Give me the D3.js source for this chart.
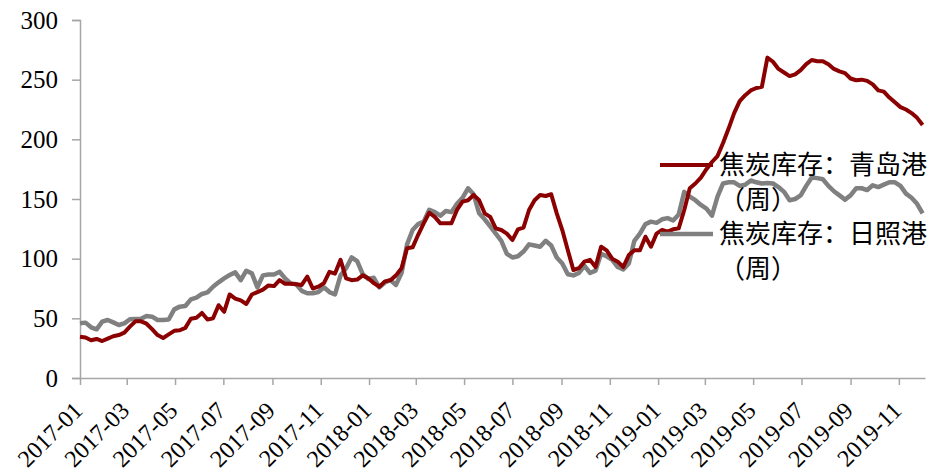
<!DOCTYPE html>
<html><head><meta charset="utf-8">
<script src="https://cdn.jsdelivr.net/npm/d3@7"></script>
<style>
html,body{margin:0;padding:0;background:#fff;}
svg{display:block;}
</style></head>
<body>
<svg id="chart" width="936" height="476"></svg>
<script>
// ---- data ----
const startDate = "2017-01-01";   // first weekly observation
const seriesNames = ["焦炭库存：青岛港", "焦炭库存：日照港"];
const legendSub = "（周）";
const yTicks = [0, 50, 100, 150, 200, 250, 300];
const xTickLabels = ["2017-01","2017-03","2017-05","2017-07","2017-09","2017-11",
  "2018-01","2018-03","2018-05","2018-07","2018-09","2018-11",
  "2019-01","2019-03","2019-05","2019-07","2019-09","2019-11"];
const qingdao = [34.6,34,31.6,32.7,31,33,35,36,38,43,47.5,47.5,45.5,41,36,33.5,36.5,39.5,40,42,
  49.6,50.5,54.5,49,50,61,55.5,70,66.6,65,62,70,72,74,77.6,77,82,79,79,78.5,
  78,85,75,76.5,79.5,89,87.5,99,83.5,82,82.5,86,83.5,79.5,76.5,81,82,86,92,108.7,
  109.5,120,129.6,138.5,135,129.6,129.6,129.6,140.8,147.8,149,153.4,149,138,135,125.4,124,121,115.6,124.6,
  126,140.8,149,153.4,152.5,154,138,124,107,90.5,92,97.5,99,93,110,107,100,97.5,93,103,
  107,107,118.4,110,121,124,122.6,124.6,125.4,140.8,159,163,168,175,181,186,197,209,222,232,
  237,241,243,244,268.5,265,259,256,253,254.5,258,263,266.5,265.5,265.5,263,259,257,255.5,251,
  249.5,250,249,246,241,240,235,231,227,225,222,218,212];
const rizhao = [45.8,46.4,42.5,40.8,47.2,48.6,46.6,44.4,45.8,49.2,49.4,49.7,52,51.4,48.6,48.6,49,57.5,59.8,60.3,
  65.9,67.3,70.4,71.8,76.5,80.2,83.5,86.3,88.5,82,89.9,87.7,76,86,86.8,86.8,89,83.5,79.3,78.5,
  73,71,71,72,76,72,70,86,92,101,98,87,83,84,76,80,82,78,88,112,
  124,129,131,141,139,136,140,139,146,151,159,154,138,133,127,121,115,104,101,102,
  106,112,111,110,115,111,101,96,87,86,88,94,88,90,104,102,99,93,91,96,
  115,121,129,131,130,133,134,132,137,156,152,149,145,142,136,152,163,164,164,161,
  162,165.5,164,163,163.5,163,160,156,149,150,153,161,168,167.5,166.5,161,156.5,153,149.5,153,
  159,159,157.5,161.5,160,162,164,164,161,154.5,151,146,138];
const colors = ["#8B0000", "#808080"];

// ---- layout ----
const svg = d3.select("#chart");
const parse = d3.timeParse("%Y-%m-%d");
const parseM = d3.timeParse("%Y-%m");
const t0 = parse(startDate);
const dates = qingdao.map((_, i) => d3.timeDay.offset(t0, 7 * i));
const mLeft = 80, mRight = 925, mTop = 20, mBottom = 378;

const x = d3.scaleTime().domain([t0, d3.timeDay.offset(t0, 1067)]).range([mLeft, mRight]);
const y = d3.scaleLinear().domain([0, 300]).range([mBottom, mTop]);

const axisColor = "#a6a6a6";
const numFont = "'Liberation Serif','DejaVu Serif',serif";

// y axis
const yAxis = svg.append("g").attr("transform", `translate(${mLeft},0)`)
  .call(d3.axisLeft(y).tickValues(yTicks).tickSize(8).tickPadding(14).tickFormat(d3.format("d")));
yAxis.select(".domain").attr("stroke", axisColor).attr("stroke-width", 1.5);
yAxis.selectAll(".tick line").attr("stroke", axisColor).attr("stroke-width", 1.5);
yAxis.selectAll(".tick text").attr("font-family", numFont).attr("font-size", 25).attr("fill", "#000");

// x axis
const xAxis = svg.append("g").attr("transform", `translate(0,${mBottom})`)
  .call(d3.axisBottom(x).tickValues(xTickLabels.map(parseM)).tickSize(7).tickSizeOuter(0).tickFormat(""));
xAxis.select(".domain").attr("stroke", axisColor).attr("stroke-width", 1.5);
xAxis.selectAll(".tick line").attr("stroke", axisColor).attr("stroke-width", 1.5);

svg.append("g").selectAll("text").data(xTickLabels).join("text")
  .attr("transform", d => `translate(${x(parseM(d)) + 4},${mBottom + 34}) rotate(-45)`)
  .attr("text-anchor", "end")
  .attr("font-family", numFont).attr("font-size", 24).attr("fill", "#000")
  .text(d => d);

// lines
const line = d3.line().x((d, i) => x(dates[i])).y(d => y(d));
[rizhao, qingdao].forEach((s, k) => {
  svg.append("path").datum(s)
    .attr("fill", "none")
    .attr("stroke", k === 0 ? colors[1] : colors[0])
    .attr("stroke-width", k === 0 ? 4.5 : 4)
    .attr("stroke-linejoin", "round")
    .attr("d", line);
});

// legend
const cjk = "'Noto Sans CJK SC','Noto Sans',sans-serif";
const lg = svg.append("g");
const legendY = [165, 234];
seriesNames.forEach((name, k) => {
  lg.append("line").attr("x1", 660).attr("x2", 713).attr("y1", legendY[k]).attr("y2", legendY[k])
    .attr("stroke", colors[k]).attr("stroke-width", k === 0 ? 4 : 4.5);
  lg.append("text").attr("x", 719).attr("y", legendY[k]).attr("dy", "0.36em")
    .attr("font-family", cjk).attr("font-size", 26).attr("fill", "#000").text(name);
  lg.append("text").attr("x", 719).attr("y", legendY[k] + 35).attr("dy", "0.36em")
    .attr("font-family", cjk).attr("font-size", 26).attr("fill", "#000").text(legendSub);
});
</script>
</body></html>
